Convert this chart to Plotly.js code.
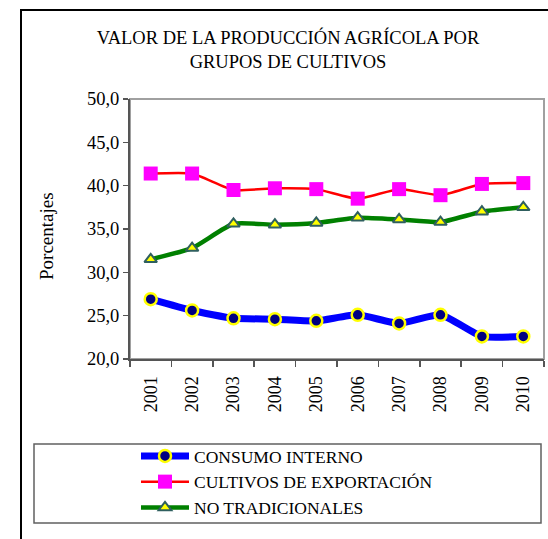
<!DOCTYPE html>
<html>
<head>
<meta charset="utf-8">
<script src="https://cdn.plot.ly/plotly-3.0.1.min.js"></script>
<style>
  html, body { margin: 0; padding: 0; background: #ffffff; }
  #chart { width: 548px; height: 539px; }
</style>
</head>
<body>
<div id="chart"></div>
<script>
const years = ['2001','2002','2003','2004','2005','2006','2007','2008','2009','2010'];
const consumoInterno = [26.9, 25.6, 24.7, 24.6, 24.4, 25.1, 24.1, 25.1, 22.6, 22.6];
const cultivosExportacion = [41.4, 41.4, 39.5, 39.7, 39.6, 38.5, 39.6, 38.9, 40.2, 40.3];
const noTradicionales = [31.5, 32.8, 35.6, 35.5, 35.7, 36.3, 36.1, 35.8, 37.0, 37.5];
const seriesNames = ['CONSUMO INTERNO', 'CULTIVOS DE EXPORTACIÓN', 'NO TRADICIONALES'];
const yTitle = 'Porcentajes';

const W = 548, H = 539;
const L = 130, R = 4, T = 99, B = 180;
const pw = W - L - R, ph = H - T - B;
const px = v => (v - L) / pw;
const py = v => (H - B - v) / ph;

const serif = 'Liberation Serif';

const traces = [
  {
    x: years, y: consumoInterno, name: seriesNames[0], type: 'scatter', mode: 'lines+markers',
    line: { color: '#0000ff', width: 7, shape: 'spline', smoothing: 0.5 },
    marker: { symbol: 'circle', size: 12, color: '#000080', line: { color: '#ffff00', width: 2.5 } }
  },
  {
    x: years, y: cultivosExportacion, name: seriesNames[1], type: 'scatter', mode: 'lines+markers',
    line: { color: '#ff0000', width: 2.5, shape: 'spline', smoothing: 0.5 },
    marker: { symbol: 'square', size: 14, color: '#ff00ff', line: { color: '#ff00ff', width: 0 } }
  },
  {
    x: years, y: noTradicionales, name: seriesNames[2], type: 'scatter', mode: 'lines+markers',
    line: { color: '#008000', width: 4.5, shape: 'spline', smoothing: 0.5 },
    marker: { symbol: 'triangle-up', size: 11, color: '#ffff00', line: { color: '#2f5f5f', width: 2 } }
  }
];

const layout = {
  width: W, height: H,
  margin: { l: L, r: R, t: T, b: B, autoexpand: false },
  paper_bgcolor: '#ffffff', plot_bgcolor: '#ffffff',
  separators: ',.',
  font: { family: serif, color: '#000000', size: 18 },
  showlegend: true,
  title: {
    text: 'VALOR DE LA PRODUCCIÓN AGRÍCOLA POR<br>GRUPOS DE CULTIVOS',
    font: { family: serif, size: 18.5, color: '#000000' },
    x: 288 / W, xref: 'container', xanchor: 'center',
    y: 1 - 44 / H, yref: 'container', yanchor: 'top'
  },
  xaxis: {
    type: 'category',
    range: [-0.5, 9.5],
    tickson: 'boundaries',
    ticks: 'outside', ticklen: 6, tickcolor: '#555555', tickwidth: 1.5,
    tickangle: -90,
    ticklabelstandoff: 8,
    showline: true, linecolor: '#555555', linewidth: 2,
    showgrid: false, zeroline: false,
    tickfont: { family: serif, size: 18, color: '#000000' },
    fixedrange: true
  },
  yaxis: {
    range: [20, 50], dtick: 5, tick0: 20, tickformat: '.1f',
    ticks: 'outside', ticklen: 5, tickcolor: '#555555', tickwidth: 1.5,
    showline: true, linecolor: '#555555', linewidth: 2,
    showgrid: false, zeroline: false,
    tickfont: { family: serif, size: 18.5, color: '#000000' },
    fixedrange: true
  },
  annotations: [
    { text: yTitle, xref: 'paper', yref: 'paper', x: px(46), y: py(236),
      xanchor: 'center', yanchor: 'middle', textangle: -90, showarrow: false,
      font: { family: serif, size: 19, color: '#000000' } }
  ],
  legend: {
    xref: 'container', yref: 'container',
    x: 136 / W, xanchor: 'left',
    y: 1 - 438 / H, yanchor: 'top',
    bgcolor: 'rgba(0,0,0,0)', borderwidth: 0,
    font: { family: serif, size: 17.5, color: '#000000' },
    itemwidth: 48,
    tracegroupgap: 0
  },
  shapes: [
    { type: 'rect', xref: 'paper', yref: 'paper', x0: 0, x1: 1, y0: 0, y1: 1,
      line: { color: '#a0a0a0', width: 2 }, layer: 'below' },
    { type: 'rect', xref: 'paper', yref: 'paper', x0: px(34), x1: px(541), y0: py(523), y1: py(444),
      line: { color: '#606060', width: 1.5 }, layer: 'below' },
    { type: 'rect', xref: 'paper', yref: 'paper', x0: px(21), x1: px(600), y0: py(600), y1: py(10),
      line: { color: '#000000', width: 2 }, layer: 'below' }
  ]
};

Plotly.newPlot('chart', traces, layout, { displayModeBar: false, staticPlot: true });
</script>
</body>
</html>
